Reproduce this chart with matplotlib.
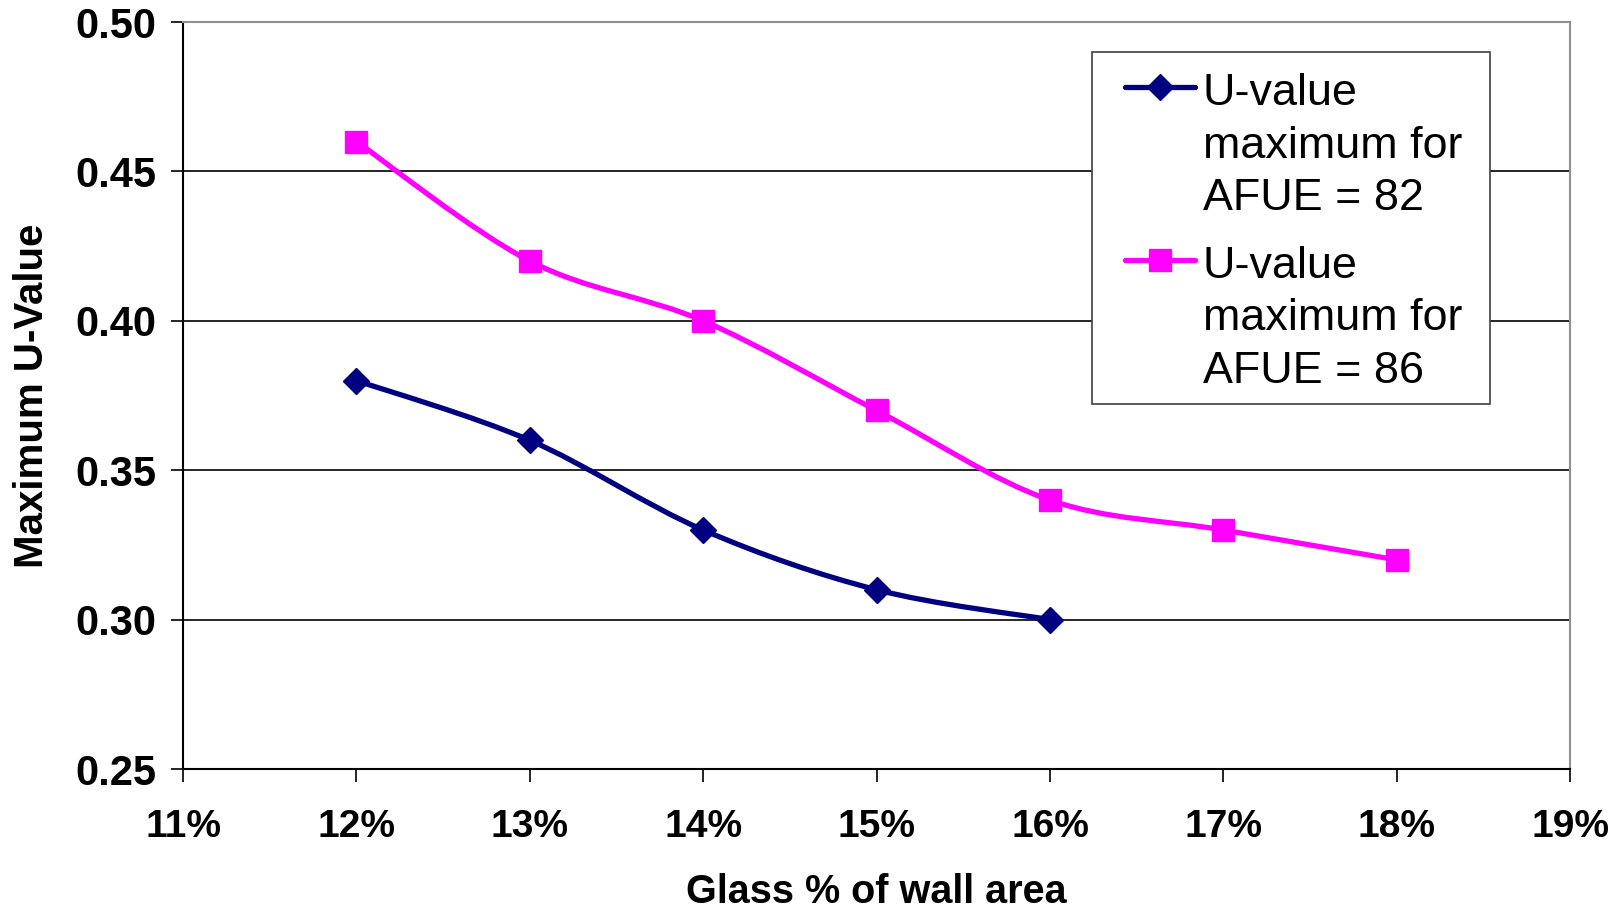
import numpy as np
import matplotlib
matplotlib.use("Agg")
import matplotlib.pyplot as plt
from matplotlib.path import Path
from matplotlib.patches import PathPatch, Rectangle
from matplotlib.lines import Line2D
from matplotlib.ticker import FuncFormatter

plt.rcParams['font.family'] = ['Liberation Sans', 'DejaVu Sans']

# Glass share of wall area and the maximum U-value allowed
glass_82 = [0.12, 0.13, 0.14, 0.15, 0.16]
uvalue_82 = [0.38, 0.36, 0.33, 0.31, 0.30]
glass_86 = [0.12, 0.13, 0.14, 0.15, 0.16, 0.17, 0.18]
uvalue_86 = [0.46, 0.42, 0.40, 0.37, 0.34, 0.33, 0.32]

labels = ["U-value\nmaximum for\nAFUE = 82", "U-value\nmaximum for\nAFUE = 86"]
colors = ["#000080", "#FF00FF"]
markers = ["D", "s"]
msizes = [13, 16]

x_ticks = [0.11, 0.12, 0.13, 0.14, 0.15, 0.16, 0.17, 0.18, 0.19]
y_ticks = [0.25, 0.30, 0.35, 0.40, 0.45, 0.50]


def smooth_path(x, y):
    # Catmull-Rom style bezier through every point (like a spreadsheet "smoothed line")
    pts = np.column_stack([x, y])
    ext = np.vstack([pts[0], pts, pts[-1]])
    verts = [pts[0]]
    codes = [Path.MOVETO]
    for i in range(1, len(ext) - 2):
        p0, p1, p2, p3 = ext[i - 1], ext[i], ext[i + 1], ext[i + 2]
        verts += [p1 + (p2 - p0) / 6, p2 - (p3 - p1) / 6, p2]
        codes += [Path.CURVE4] * 3
    return Path(verts, codes)


fig = plt.figure(figsize=(16.23, 9.14), dpi=100)
ax = fig.add_axes([0.1128, 0.1586, 0.8546, 0.8173])

series = [(glass_82, uvalue_82), (glass_86, uvalue_86)]
for (gx, uy), c, m, ms in zip(series, colors, markers, msizes):
    ax.add_patch(PathPatch(smooth_path(gx, uy), facecolor='none', edgecolor=c,
                           lw=3.8, capstyle='round', joinstyle='round', zorder=3))
    ax.plot(gx, uy, ls='none', marker=m, ms=ms, color=c, mec=c, zorder=4)

ax.set_xlim(0.11, 0.19)
ax.set_ylim(0.25, 0.50)
ax.set_xticks(x_ticks)
ax.set_yticks(y_ticks)
ax.xaxis.set_major_formatter(FuncFormatter(lambda v, p: f"{round(v * 100)}%"))
ax.yaxis.set_major_formatter(FuncFormatter(lambda v, p: f"{v:.2f}"))
ax.tick_params(direction='out', length=9, width=1.2, color='black')
ax.tick_params(axis='x', pad=20, labelsize=28)
ax.tick_params(axis='y', pad=10, labelsize=30)
for lab in ax.get_xticklabels() + ax.get_yticklabels():
    lab.set_fontweight('bold')

ax.grid(axis='y', color='black', lw=1.2)
ax.set_axisbelow(True)
for s in ['top', 'right']:
    ax.spines[s].set_color('#909090')
    ax.spines[s].set_linewidth(1.5)
for s in ['left', 'bottom']:
    ax.spines[s].set_color('black')
    ax.spines[s].set_linewidth(1.5)

ax.set_xlabel("Glass % of wall area", fontsize=28.5, fontweight='bold', labelpad=20)
ax.set_ylabel("Maximum U-Value", fontsize=29, fontweight='bold', labelpad=18)


# legend box drawn by hand so the marker sits on the first text line
def fx(px):
    return px / 1623


def fy(py):
    return 1 - py / 914


fig.add_artist(Rectangle((fx(1092), fy(404)), fx(1490) - fx(1092), fy(52) - fy(404),
                         transform=fig.transFigure, facecolor='white',
                         edgecolor='#404040', lw=1.2, zorder=5))
for lab, c, m, ms, hy, ty in zip(labels, colors, markers, msizes, [87, 260], [146, 319]):
    fig.add_artist(Line2D([fx(1125), fx(1195)], [fy(hy), fy(hy)], transform=fig.transFigure,
                          color=c, lw=3.8, solid_capstyle='round', zorder=6))
    fig.add_artist(Line2D([fx(1160)], [fy(hy)], transform=fig.transFigure, ls='none',
                          marker=m, ms=ms, color=c, zorder=7))
    fig.text(fx(1203), fy(ty), lab, fontsize=32.3, va='center', ha='left',
             linespacing=1.35, zorder=8)

fig.savefig("out.png", dpi=100)
